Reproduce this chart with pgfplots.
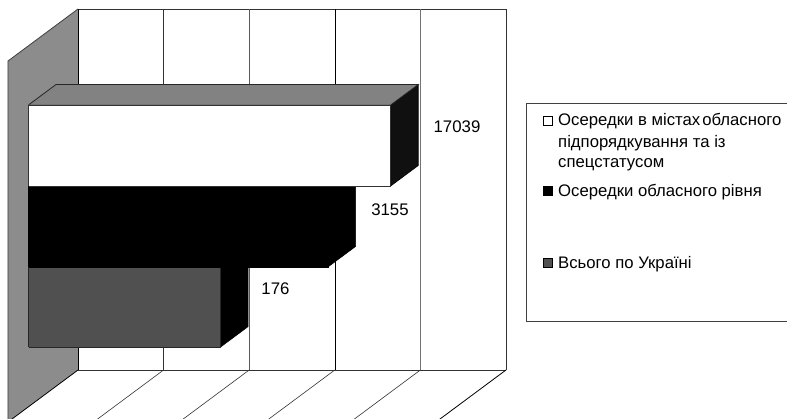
\documentclass[border=0pt]{standalone}
\usepackage{fontspec}
\setmainfont{Liberation Sans}
\usepackage{pgfplots}
\pgfplotsset{compat=1.18}
\definecolor{wallgray}{HTML}{8C8C8C}
\definecolor{topgray}{HTML}{828282}
\definecolor{sidedark}{HTML}{101010}
\definecolor{basegray}{HTML}{505050}
\definecolor{edgegray}{HTML}{333333}
\begin{document}
\begin{tikzpicture}[x=1pt,y=1pt]
\path[use as bounding box] (0,0) rectangle (787,419);
\clip (0,0) rectangle (787,419);
\begin{axis}[
  anchor=south west, at={(8pt,-3pt)},
  xmode=log, log basis x=10,
  x={(85.6pt,0pt)}, y={(1pt,0.743pt)}, z={(0pt,1pt)},
  xmin=1, xmax=100000, ymin=0, ymax=70, zmin=0, zmax=361,
  axis lines=none, clip=false, no marks,
  every axis plot/.append style={line join=miter},
]
% back wall
\addplot3[fill=white, draw=none] coordinates {(1,70,0)(100000,70,0)(100000,70,361)(1,70,361)(1,70,0)};
% left wall
\addplot3[fill=wallgray, draw=none] coordinates {(1,0,0)(1,70,0)(1,70,361)(1,0,361)(1,0,0)};
\addplot3[color=black!75, line width=0.8pt] coordinates {(1,0,0)(1,0,361)(1,70,361)};
% horizontal frame of the back wall
\addplot3[color=edgegray, line width=0.9pt] coordinates {(1,70,361)(100000,70,361)};
\addplot3[color=edgegray, line width=0.9pt] coordinates {(1,70,0)(100000,70,0)};
% vertical grid on the back wall
\addplot3[color=black, line width=0.8pt] coordinates {(1,70,0)(1,70,361)};
\addplot3[color=edgegray, line width=0.7pt] coordinates {(10,70,0)(10,70,361)};
\addplot3[color=black!65, line width=0.8pt] coordinates {(100,70,0)(100,70,361)};
\addplot3[color=black, line width=0.6pt] coordinates {(1000,70,0)(1000,70,361)};
\addplot3[color=black!55, line width=1pt] coordinates {(10000,70,0)(10000,70,361)};
\addplot3[color=black!80, line width=0.8pt] coordinates {(100000,70,0)(100000,70,361)};
% floor lines
\addplot3[color=black, line width=0.8pt] coordinates {(1,0,0)(1,70,0)};
\addplot3[color=edgegray, line width=0.6pt] coordinates {(10,0,0)(10,70,0)};
\addplot3[color=edgegray, line width=0.6pt] coordinates {(100,0,0)(100,70,0)};
\addplot3[color=edgegray, line width=0.6pt] coordinates {(1000,0,0)(1000,70,0)};
\addplot3[color=edgegray, line width=0.6pt] coordinates {(10000,0,0)(10000,70,0)};
\addplot3[color=black, line width=0.8pt] coordinates {(100000,0,0)(100000,70,0)};
% lowest bar: 176
\addplot3[fill=black, draw=black, line width=0.5pt] coordinates {(176,20.5,59.8)(176,48,59.8)(176,48,139.8)(176,20.5,139.8)(176,20.5,59.8)};
\addplot3[fill=basegray, draw=black!85, line width=0.7pt] coordinates {(1,20.5,59.8)(176,20.5,59.8)(176,20.5,139.8)(1,20.5,139.8)(1,20.5,59.8)};
% middle bar: 3155
\addplot3[fill=black, draw=black, line width=0.5pt] coordinates {(3155,20.5,139.8)(3155,48,139.8)(3155,48,220.8)(3155,20.5,220.8)(3155,20.5,139.8)};
\addplot3[fill=black, draw=black, line width=0.5pt] coordinates {(1,20.5,139.8)(3155,20.5,139.8)(3155,20.5,220.8)(1,20.5,220.8)(1,20.5,139.8)};
% upper bar: 17039
\addplot3[fill=sidedark, draw=black, line width=0.6pt] coordinates {(17039,20.5,220.8)(17039,48,220.8)(17039,48,301.8)(17039,20.5,301.8)(17039,20.5,220.8)};
\addplot3[fill=topgray, draw=black!85, line width=0.8pt] coordinates {(1,20.5,301.8)(17039,20.5,301.8)(17039,48,301.8)(1,48,301.8)(1,20.5,301.8)};
\addplot3[fill=white, draw=edgegray, line width=0.8pt] coordinates {(1,20.5,220.8)(17039,20.5,220.8)(17039,20.5,301.8)(1,20.5,301.8)(1,20.5,220.8)};
\end{axis}
% value labels
\node[font=\fontsize{16.8}{20}\selectfont] at (457,292.5) {17039};
\node[font=\fontsize{16.8}{20}\selectfont] at (390,209.5) {3155};
\node[font=\fontsize{16.8}{20}\selectfont] at (275.5,130.5) {176};
% legend
\draw[color=black!75, line width=0.7pt, fill=white] (526,98) rectangle (800,316);
\draw[black, line width=0.7pt, fill=white] (543.5,294) rectangle (552,303);
\fill[black] (543,223) rectangle (552.5,233);
\draw[black, line width=0.7pt, fill=basegray] (543.5,151.5) rectangle (552,160.5);
\begin{scope}[every node/.style={anchor=base west, inner sep=0pt, font=\fontsize{16.7}{20}\selectfont}]
\node at (558,293) {Осередки в містах\hspace{-2.5pt} обласного};
\node at (558,271) {підпорядкування та із};
\node at (558,251) {спецстатусом};
\node at (558,222) {Осередки обласного рівня};
\node at (558,150) {Всього по Україні};
\end{scope}
\end{tikzpicture}
\end{document}
